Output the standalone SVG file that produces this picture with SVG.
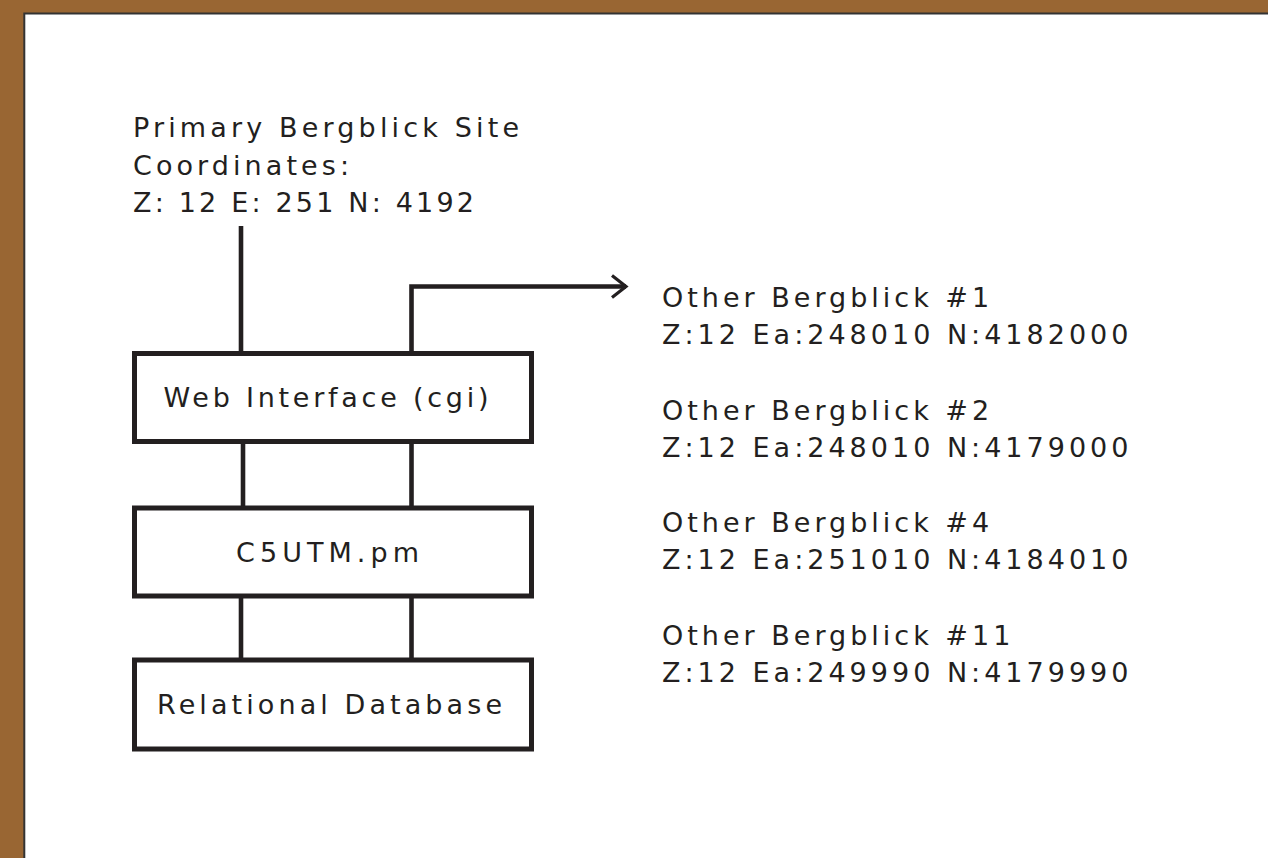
<svg xmlns="http://www.w3.org/2000/svg" width="1268" height="858" viewBox="0 0 1268 858">
  <style>
    text { font-family: "DejaVu Sans", "Liberation Sans", sans-serif; font-size: 27px; fill: #231f20; letter-spacing: 4px; }
    .box { fill: #ffffff; stroke: #231f20; stroke-width: 5; }
    .wire { fill: none; stroke: #231f20; stroke-width: 4.6; }
  </style>
  <defs>
    <marker id="open" markerUnits="userSpaceOnUse" markerWidth="20" markerHeight="30" refX="15" refY="12" orient="auto" viewBox="0 0 20 24">
      <path d="M1,1 L15,12 L1,23" fill="none" stroke="#231f20" stroke-width="3.2" stroke-linejoin="miter"/>
    </marker>
  </defs>
  <rect x="0" y="0" width="1268" height="858" fill="#996633"/>
  <rect x="24.3" y="13.5" width="1260" height="860" fill="#ffffff" stroke="#333333" stroke-width="2"/>

  <g id="primary-site">
    <text x="133" y="137" textLength="390" lengthAdjust="spacing">Primary Bergblick Site</text>
    <text x="133" y="174.5" textLength="220" lengthAdjust="spacing">Coordinates:</text>
    <text x="133" y="212" textLength="345" lengthAdjust="spacing">Z: 12 E: 251 N: 4192</text>
  </g>

  <g id="connectors">
    <line class="wire" x1="241" y1="226" x2="241" y2="354"/>
    <polyline class="wire" points="411.5,354 411.5,286.5 626,286.5" marker-end="url(#open)"/>
    <line class="wire" x1="243" y1="441" x2="243" y2="509"/>
    <line class="wire" x1="411.5" y1="441" x2="411.5" y2="509"/>
    <line class="wire" x1="241" y1="595" x2="241" y2="661"/>
    <line class="wire" x1="411.5" y1="595" x2="411.5" y2="661"/>
  </g>

  <g id="web-interface">
    <rect class="box" x="134.5" y="353.5" width="397" height="88"/>
    <text x="163.5" y="406.5" textLength="329" lengthAdjust="spacing">Web Interface (cgi)</text>
  </g>

  <g id="c5utm">
    <rect class="box" x="134.5" y="508" width="397" height="88"/>
    <text x="236" y="562" textLength="187" lengthAdjust="spacing">C5UTM.pm</text>
  </g>

  <g id="relational-db">
    <rect class="box" x="134.5" y="660" width="397" height="89"/>
    <text x="157" y="713.5" textLength="349" lengthAdjust="spacing">Relational Database</text>
  </g>

  <g id="other-sites">
    <text x="662" y="307">Other Bergblick #1</text>
    <text x="662" y="344">Z:12 Ea:248010 N:4182000</text>
    <text x="662" y="419.5">Other Bergblick #2</text>
    <text x="662" y="456.5">Z:12 Ea:248010 N:4179000</text>
    <text x="662" y="532">Other Bergblick #4</text>
    <text x="662" y="569">Z:12 Ea:251010 N:4184010</text>
    <text x="662" y="644.5">Other Bergblick #11</text>
    <text x="662" y="681.5">Z:12 Ea:249990 N:4179990</text>
  </g>
</svg>
